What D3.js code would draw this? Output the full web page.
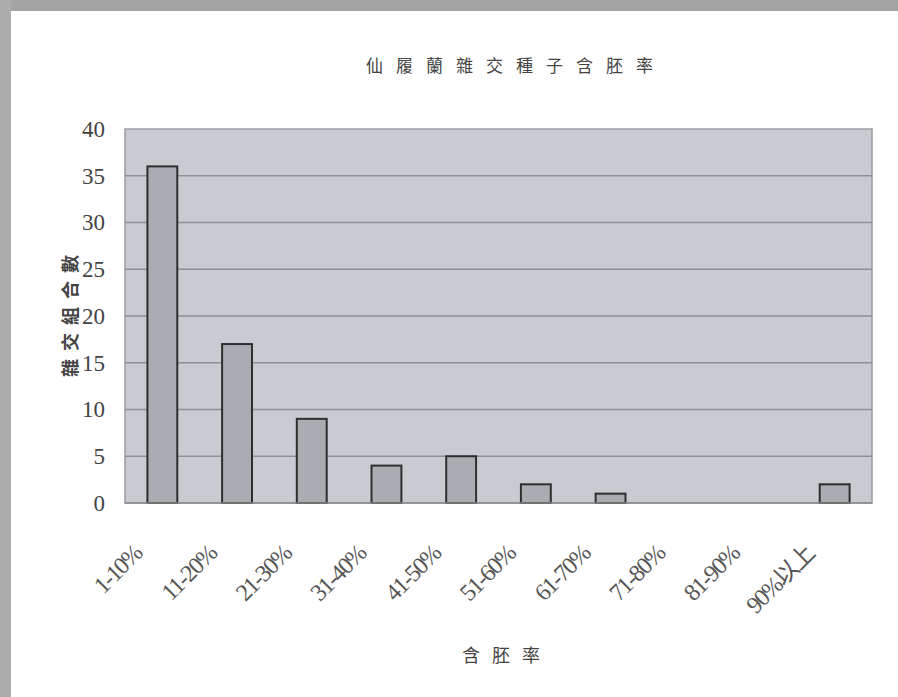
<!DOCTYPE html>
<html><head><meta charset="utf-8">
<script src="https://cdn.jsdelivr.net/npm/d3@7"></script>
<style>body{margin:0;background:#fff;}svg{display:block;}</style>
</head><body>
<svg id="c" width="898" height="697"></svg>
<script>
const categories = ["1-10%","11-20%","21-30%","31-40%","41-50%","51-60%","61-70%","71-80%","81-90%","90%以上"];
const values = [36,17,9,4,5,2,1,0,0,2];
const yTicks = [0,5,10,15,20,25,30,35,40];
const title = "仙履蘭雜交種子含胚率";
const yTitle = "雜交組合數";
const xTitle = "含胚率";

const svg = d3.select("#c");
// scanned page frame
svg.append("rect").attr("x",0).attr("y",0).attr("width",898).attr("height",697).attr("fill","#fff");
svg.append("rect").attr("x",0).attr("y",0).attr("width",898).attr("height",11).attr("fill","#a4a4a4");
svg.append("rect").attr("x",0).attr("y",0).attr("width",11).attr("height",697).attr("fill","#acacac");

const m = {l:125, r:872, t:129, b:503};
const x = d3.scaleBand().domain(categories).range([m.l,m.r]).paddingInner(0.6).paddingOuter(0.3);
const y = d3.scaleLinear().domain([0,40]).range([m.b,m.t]);

svg.append("rect").attr("x",m.l).attr("y",m.t).attr("width",m.r-m.l).attr("height",m.b-m.t)
  .attr("fill","#c8ccd0").attr("stroke","#9a9c9e").attr("stroke-width",1.5);

svg.append("g").selectAll("line").data(yTicks.filter(d=>d>0&&d<40)).join("line")
  .attr("x1",m.l).attr("x2",m.r).attr("y1",d=>y(d)).attr("y2",d=>y(d))
  .attr("stroke","#8d9194").attr("stroke-width",1.5);

svg.append("g").selectAll("rect").data(values).join("rect")
  .attr("x",(d,i)=>x(categories[i])).attr("width",x.bandwidth())
  .attr("y",d=>y(d)).attr("height",d=>m.b-y(d))
  .attr("fill","#a9adb1").attr("stroke","#2e2e2e").attr("stroke-width",2)
  .attr("display",d=>d>0?null:"none");

svg.append("line").attr("x1",m.l).attr("x2",m.r).attr("y1",m.b).attr("y2",m.b)
  .attr("stroke","#8a8a8a").attr("stroke-width",1.5);

const yAxis = d3.axisLeft(y).tickValues(yTicks).tickSize(0).tickPadding(20);
const gy = svg.append("g").attr("transform",`translate(${m.l},0)`).call(yAxis);
gy.select(".domain").remove();
gy.selectAll("text").attr("font-family","Liberation Serif").attr("font-size",23)
  .attr("fill","#444").attr("letter-spacing",0);

const xAxis = d3.axisBottom(x).tickSize(0).tickPadding(0);
const gx = svg.append("g").attr("transform",`translate(0,${m.b})`).call(xAxis);
gx.select(".domain").remove();
gx.selectAll("text").attr("font-family","Liberation Serif, Noto Sans CJK TC").attr("font-size",24)
  .attr("fill","#555").attr("letter-spacing",-1.5)
  .attr("text-anchor","end").attr("dy",0).attr("y",0)
  .attr("transform","translate(-19,52) rotate(-45)");

svg.append("text").attr("x",516).attr("y",72).attr("text-anchor","middle")
  .attr("font-family","Noto Sans CJK TC").attr("font-size",17).attr("letter-spacing",13)
  .attr("fill","#444").text(title);

svg.append("text").attr("transform","translate(77,312) rotate(-90)").attr("text-anchor","middle")
  .attr("font-family","Noto Sans CJK TC").attr("font-size",18).attr("letter-spacing",8)
  .attr("fill","#444").attr("font-weight","bold").text(yTitle);

svg.append("text").attr("x",507).attr("y",662).attr("text-anchor","middle")
  .attr("font-family","Noto Sans CJK TC").attr("font-size",18).attr("letter-spacing",12)
  .attr("fill","#444").text(xTitle);
</script>
</body></html>
